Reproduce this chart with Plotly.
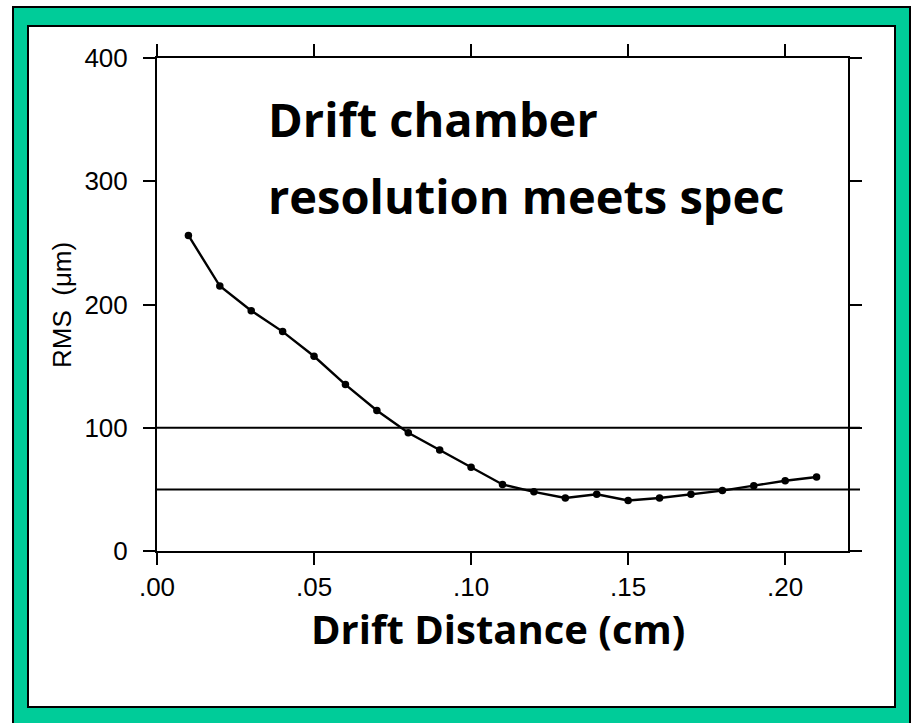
import plotly.graph_objects as go

# ---- data ----
drift_cm = [0.01, 0.02, 0.03, 0.04, 0.05, 0.06, 0.07, 0.08, 0.09, 0.10, 0.11,
            0.12, 0.13, 0.14, 0.15, 0.16, 0.17, 0.18, 0.19, 0.20, 0.21]
rms_um = [256, 215, 195, 178, 158, 135, 114, 96, 82, 68, 54,
          48, 43, 46, 41, 43, 46, 49, 53, 57, 60]
spec_levels = [100, 50]
x_tickvals = [0.00, 0.05, 0.10, 0.15, 0.20]
x_ticktext = [".00", ".05", ".10", ".15", ".20"]
y_tickvals = [0, 100, 200, 300, 400]
title_lines = ["Drift chamber", "resolution meets spec"]
x_title = "Drift Distance (cm)"
y_title = "RMS  (μm)"

W, H = 915, 723
L, R, T, B = 157, 848, 58, 551  # plot area pixel box


def px(x):
    return (x - L) / (R - L)


def py(y):
    return (B - y) / (B - T)


GREEN = "#00CC99"
HAND = "Open Sans"

fig = go.Figure()
fig.add_trace(go.Scatter(
    x=drift_cm, y=rms_um, mode="lines+markers",
    line=dict(color="black", width=2.4),
    marker=dict(color="black", size=7.5),
    showlegend=False, hoverinfo="x+y"))

shapes = [
    dict(type="rect", xref="paper", yref="paper", layer="below",
         x0=px(13), x1=px(910), y0=py(740), y1=py(7),
         fillcolor=GREEN, line=dict(color="black", width=2)),
    dict(type="rect", xref="paper", yref="paper", layer="below",
         x0=px(28), x1=px(895), y0=py(707), y1=py(26),
         fillcolor="white", line=dict(color="black", width=2)),
]
for lvl in spec_levels:
    shapes.append(dict(type="line", xref="paper", yref="y",
                       x0=0, x1=px(860), y0=lvl, y1=lvl,
                       line=dict(color="black", width=2)))

axis_common = dict(showline=True, linecolor="black", linewidth=2,
                   mirror="ticks", ticks="outside", ticklen=12, tickwidth=2,
                   tickcolor="black", showgrid=False, zeroline=False,
                   tickfont=dict(family="Liberation Sans", size=26, color="black"))

fig.update_xaxes(range=[0, 0.22], tickvals=x_tickvals, ticktext=x_ticktext,
                 **axis_common)
fig.update_yaxes(range=[0, 400], tickvals=y_tickvals, ticklabelstandoff=10,
                 **axis_common)

annotations = [
    dict(text=title_lines[0], x=px(266), y=py(119), xref="paper", yref="paper",
         xanchor="left", yanchor="middle", showarrow=False,
         font=dict(family=HAND, size=47, color="black", weight="bold")),
    dict(text=title_lines[1], x=px(266), y=py(196), xref="paper", yref="paper",
         xanchor="left", yanchor="middle", showarrow=False,
         font=dict(family=HAND, size=47, color="black", weight="bold")),
    dict(text=x_title, x=px(498), y=py(628), xref="paper", yref="paper",
         xanchor="center", yanchor="middle", showarrow=False,
         font=dict(family=HAND, size=40, color="black", weight="bold")),
    dict(text=y_title, x=px(62), y=py(305), xref="paper", yref="paper",
         xanchor="center", yanchor="middle", showarrow=False, textangle=-90,
         font=dict(family="Liberation Sans", size=26, color="black")),
]

fig.update_layout(
    width=W, height=H,
    margin=dict(l=L, r=W - R, t=T, b=H - B, pad=0),
    paper_bgcolor="white", plot_bgcolor="rgba(0,0,0,0)",
    shapes=shapes, annotations=annotations,
)

fig.write_html("out.html")
